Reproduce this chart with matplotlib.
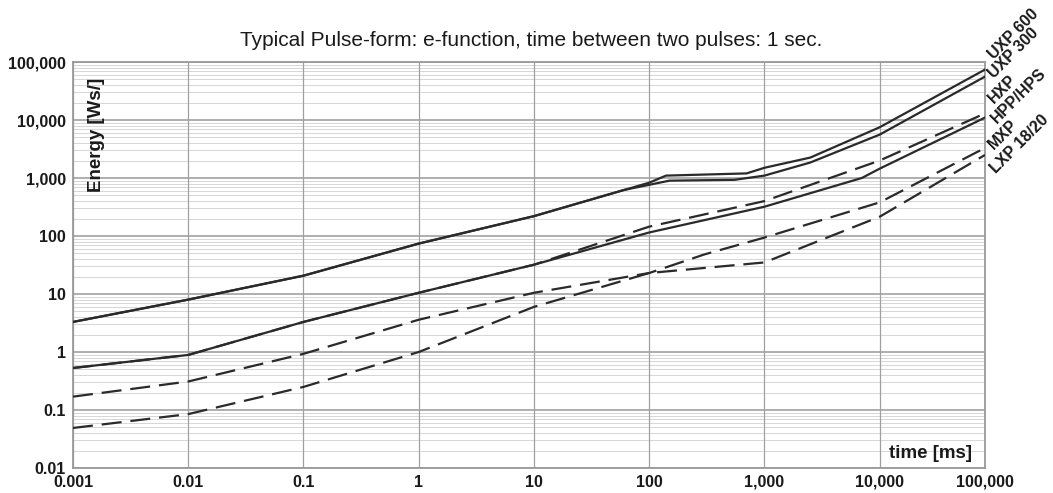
import matplotlib
matplotlib.use("Agg")
import matplotlib.pyplot as plt
from matplotlib.ticker import LogLocator, NullFormatter, FixedLocator

plt.rcParams['font.family'] = ['Liberation Sans', 'DejaVu Sans']

# pulse duration [ms] / energy [Ws]
t_uxp600 = [0.001, 0.01, 0.1, 1, 10, 100, 140, 700, 1000, 2500, 10000, 82000]
e_uxp600 = [3.3, 8, 20.7, 74, 220, 830, 1100, 1200, 1500, 2250, 7500, 74000]

t_uxp300 = [0.001, 0.01, 0.1, 1, 10, 60, 150, 550, 1000, 2500, 10000, 82000]
e_uxp300 = [3.3, 8, 20.7, 74, 220, 620, 900, 930, 1100, 1850, 5600, 56000]

t_hxp = [0.001, 0.01, 0.1, 1, 10, 100, 1000, 10000, 82000]
e_hxp = [0.53, 0.89, 3.3, 10.5, 32, 145, 400, 2000, 13000]

t_hpp = [0.001, 0.01, 0.1, 1, 10, 100, 1000, 7000, 10000, 82000]
e_hpp = [0.53, 0.89, 3.3, 10.5, 32, 115, 320, 1000, 1450, 11000]

t_mxp = [0.001, 0.01, 0.1, 1, 10, 100, 300, 1000, 10000, 82000]
e_mxp = [0.17, 0.31, 0.93, 3.6, 10.5, 23, 48, 94, 380, 3300]

t_lxp = [0.001, 0.01, 0.1, 1, 10, 100, 1000, 10000, 82000]
e_lxp = [0.049, 0.085, 0.25, 1.0, 6.0, 23, 35, 215, 2500]

x_ticks = [0.001, 0.01, 0.1, 1, 10, 100, 1000, 10000, 82000]
x_labels = ["0.001", "0.01", "0.1", "1", "10", "100", "1,000", "10,000", "100,000"]
y_ticks = [0.01, 0.1, 1, 10, 100, 1000, 10000, 100000]
y_labels = ["0.01", "0.1", "1", "10", "100", "1,000", "10,000", "100,000"]

series_names = ["UXP 600", "UXP 300", "HXP", "HPP/HPS", "MXP", "LXP 18/20"]

W, H = 1053, 493
fig = plt.figure(figsize=(W / 100, H / 100), dpi=100)
ax = fig.add_axes([73 / W, 1 - 468 / H, (985 - 73) / W, (468 - 62) / H])

ax.set_xscale('log')
ax.set_yscale('log')
ax.set_xlim(0.001, 82000)
ax.set_ylim(0.01, 100000)

# grid
ax.yaxis.set_minor_locator(LogLocator(base=10, subs=range(2, 10), numticks=20))
ax.yaxis.set_minor_formatter(NullFormatter())
ax.xaxis.set_minor_locator(FixedLocator([]))
ax.grid(which='minor', axis='y', color='#d6d6d6', lw=0.7)
ax.grid(which='major', axis='y', color='#a8a8a8', lw=1.3)
ax.set_xticks(x_ticks)
ax.set_xticklabels(x_labels)
ax.set_yticks(y_ticks)
ax.set_yticklabels(y_labels)
for xt in x_ticks[:-1]:
    ax.axvline(xt, color='#a0a0a0', lw=0.9, zorder=1)
ax.tick_params(which='both', length=0, labelsize=11.5, colors='#1a1a1a', pad=5)
for lab in ax.get_xticklabels() + ax.get_yticklabels():
    lab.set_fontweight('bold')
for sp in ax.spines.values():
    sp.set_color('#9a9a9a')
    sp.set_linewidth(1.3)
ax.set_axisbelow(True)

lc = '#2a2a2a'
dash = (9, 4)
ax.plot(t_mxp, e_mxp, color=lc, lw=1.6, dashes=dash, zorder=3)
ax.plot(t_lxp, e_lxp, color=lc, lw=1.6, dashes=dash, zorder=3)
ax.plot(t_hxp, e_hxp, color=lc, lw=1.6, dashes=dash, zorder=3)
ax.plot(t_hpp, e_hpp, color=lc, lw=1.6, zorder=4)
ax.plot(t_uxp300, e_uxp300, color=lc, lw=1.6, zorder=4)
ax.plot(t_uxp600, e_uxp600, color=lc, lw=1.6, zorder=4)

ax.text(0.026, 0.96, "Energy [Ws/]", transform=ax.transAxes, rotation=90,
        ha='center', va='top', fontsize=13.5, fontweight='bold', color='#1a1a1a')
ax.text(0.986, 0.025, "time [ms]", transform=ax.transAxes, ha='right',
        va='baseline', fontsize=13.5, fontweight='bold', color='#1a1a1a')

fig.text(531 / W, 1 - 46 / H, "Typical Pulse-form: e-function, time between two pulses: 1 sec.",
         ha='center', va='baseline', fontsize=15, color='#1a1a1a')

# rotated series labels at the right edge
label_pos = [(994, 60), (994, 79), (994, 104), (997, 124), (994, 150), (996, 174)]
for name, (px, py) in zip(series_names, label_pos):
    fig.text(px / W, 1 - py / H, name, rotation=45, rotation_mode='anchor',
             ha='left', va='baseline', fontsize=11.5, fontweight='bold', color='#1a1a1a')

fig.savefig('out.png', dpi=100)
